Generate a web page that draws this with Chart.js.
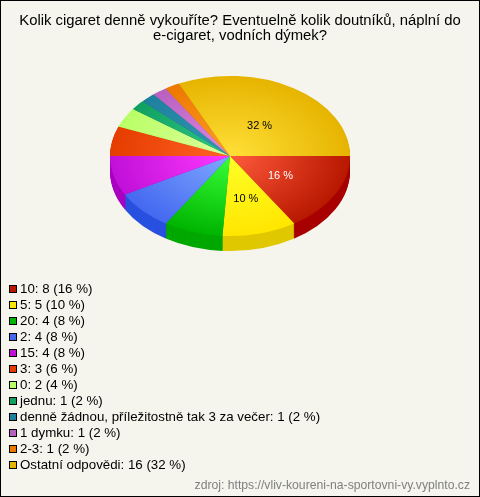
<!DOCTYPE html>
<html lang="cs">
<head>
<meta charset="utf-8">
<title>Kolik cigaret denně vykouříte?</title>
<script src="https://cdn.jsdelivr.net/npm/chart.js@4"></script>
<style>
  html, body { margin: 0; padding: 0; background: #f5f5ee; }
  #frame { position: relative; width: 480px; height: 497px; box-sizing: border-box; border: 1px solid #000; overflow: hidden; }
</style>
</head>
<body>
<div id="frame"><canvas id="chart"></canvas></div>
<script>
const categories = ['10', '5', '20', '2', '15', '3', '0', 'jednu', 'denně žádnou, příležitostně tak 3 za večer', '1 dymku', '2-3', 'Ostatní odpovědi'];
const counts = [8, 5, 4, 4, 4, 3, 2, 1, 1, 1, 1, 16];
const percents = [16, 10, 8, 8, 8, 6, 4, 2, 2, 2, 2, 32];
const titleLines = ['Kolik cigaret denně vykouříte? Eventuelně kolik doutníků, náplní do', 'e-cigaret, vodních dýmek?'];
const sourceText = 'zdroj: https://vliv-koureni-na-sportovni-vy.vyplnto.cz';

// colours per slice: rim of the top face, centre of the top face, side wall
const edgeColors = ['#b81800', '#ffe600', '#00b400', '#4468f0', '#c010d8', '#e63c00', '#b8ff66', '#10a060', '#1f7f9f', '#b860c0', '#ec7800', '#e6b400'];
const centerColors = ['#ff5a3c', '#ffff28', '#38ff38', '#80a8ff', '#ff38ff', '#ff6428', '#e0ffa0', '#30c888', '#3098b0', '#e088e0', '#ff9c28', '#ffe038'];
const sideColors = ['#a80000', '#e0c800', '#00a800', '#2850e0', '#a800c0', '#c03000', '#90d040', '#088048', '#186880', '#905098', '#c06000', '#c09000'];
// how far out along the slice the percent label sits
const labelRadii = [0.48, 0.53, 0, 0, 0, 0, 0, 0, 0, 0, 0, 0.46];

const SQUASH = 0.667;   // height / width of the tilted pie
const DEPTH = 15;       // wall height in px
const PIE_X = 229;      // centre of the ellipse inside the canvas
const PIE_Y = 155;
const LEGEND_TOP = 284; // first legend swatch
const LEGEND_ROW = 16;

function sliceFill(context) {
  const { chart, dataIndex } = context;
  const area = chart.chartArea;
  if (!area) return edgeColors[dataIndex];
  const x = (area.left + area.right) / 2;
  const y = (area.top + area.bottom) / 2;
  const g = chart.ctx.createRadialGradient(x, y, 0, x, y, 120);
  g.addColorStop(0, centerColors[dataIndex]);
  g.addColorStop(1, edgeColors[dataIndex]);
  return g;
}

// Tilts the pie: everything the dataset draws goes through this transform.
function applyTilt(ctx, arc, offset) {
  ctx.translate(PIE_X - arc.x, PIE_Y + offset);
  ctx.scale(1, SQUASH);
  ctx.translate(0, -arc.y);
}

const tiltPlugin = {
  id: 'tilt',
  afterLayout(chart) {
    // the chartArea legend is bottom aligned, push it down to the right rows
    chart.legend.bottom = LEGEND_TOP - 2 + categories.length * LEGEND_ROW;
  },
  beforeDatasetDraw(chart) {
    const { ctx } = chart;
    const arcs = chart.getDatasetMeta(0).data;
    // side wall first, stacked copies of each slice going downward
    for (let d = DEPTH; d > 0; d--) {
      arcs.forEach((arc, i) => {
        ctx.save();
        applyTilt(ctx, arc, d);
        ctx.fillStyle = sideColors[i];
        ctx.beginPath();
        ctx.moveTo(arc.x, arc.y);
        ctx.arc(arc.x, arc.y, arc.outerRadius, arc.startAngle, arc.endAngle);
        ctx.closePath();
        ctx.fill();
        ctx.restore();
      });
    }
    ctx.save();
    applyTilt(ctx, arcs[0], 0);
  },
  afterDatasetDraw(chart) {
    const { ctx } = chart;
    ctx.restore();
    // percent labels on the big slices only
    const arcs = chart.getDatasetMeta(0).data;
    ctx.save();
    ctx.font = '11px "Liberation Sans", Arial, sans-serif';
    ctx.textAlign = 'center';
    ctx.textBaseline = 'middle';
    arcs.forEach((arc, i) => {
      if (percents[i] < 10) return;
      const mid = (arc.startAngle + arc.endAngle) / 2;
      const r = arc.outerRadius * labelRadii[i];
      ctx.fillStyle = i === 0 ? '#ffffff' : '#000000';
      ctx.fillText(percents[i] + ' %', PIE_X + Math.cos(mid) * r, PIE_Y + 1.5 + Math.sin(mid) * r * SQUASH);
    });
    ctx.restore();
  },
  afterDraw(chart) {
    // legend swatches, the built-in box sits too far from its text
    const { ctx } = chart;
    ctx.save();
    ctx.strokeStyle = '#000';
    ctx.lineWidth = 1;
    categories.forEach((name, i) => {
      const y = LEGEND_TOP + i * LEGEND_ROW + 0.5;
      ctx.fillStyle = edgeColors[i];
      ctx.fillRect(8.5, y, 7, 7);
      ctx.strokeRect(8.5, y, 7, 7);
    });
    ctx.restore();
  }
};

new Chart(document.getElementById('chart'), {
  type: 'pie',
  data: {
    labels: categories,
    datasets: [{
      data: counts,
      backgroundColor: sliceFill,
      borderWidth: 0,
      radius: 120,
      rotation: 90
    }]
  },
  options: {
    responsive: true,
    maintainAspectRatio: false,
    animation: false,
    layout: { padding: { left: 9, right: 9, top: 0, bottom: 0 } },
    plugins: {
      tooltip: { enabled: false },
      title: {
        display: true,
        text: titleLines,
        color: '#000',
        font: { family: '"Liberation Sans", Arial, sans-serif', size: 14.85, weight: 'normal', lineHeight: 1.04 },
        padding: { top: 12, bottom: 4 }
      },
      subtitle: {
        display: true,
        position: 'bottom',
        align: 'end',
        text: sourceText,
        color: '#808080',
        font: { family: '"Liberation Sans", Arial, sans-serif', size: 12.2, weight: 'normal' },
        padding: { top: 2, bottom: 3 }
      },
      legend: {
        position: 'chartArea',
        align: 'end',
        labels: {
          boxWidth: 0.65,
          boxHeight: 6,
          padding: 2.7,
          color: '#000',
          font: { family: '"Liberation Sans", Arial, sans-serif', size: 13.3 },
          generateLabels: () => categories.map((name, i) => ({
            text: `${name}: ${counts[i]} (${percents[i]} %)`,
            fillStyle: 'transparent',
            strokeStyle: 'transparent',
            lineWidth: 0,
            index: i
          }))
        }
      }
    }
  },
  plugins: [tiltPlugin]
});
</script>
</body>
</html>
